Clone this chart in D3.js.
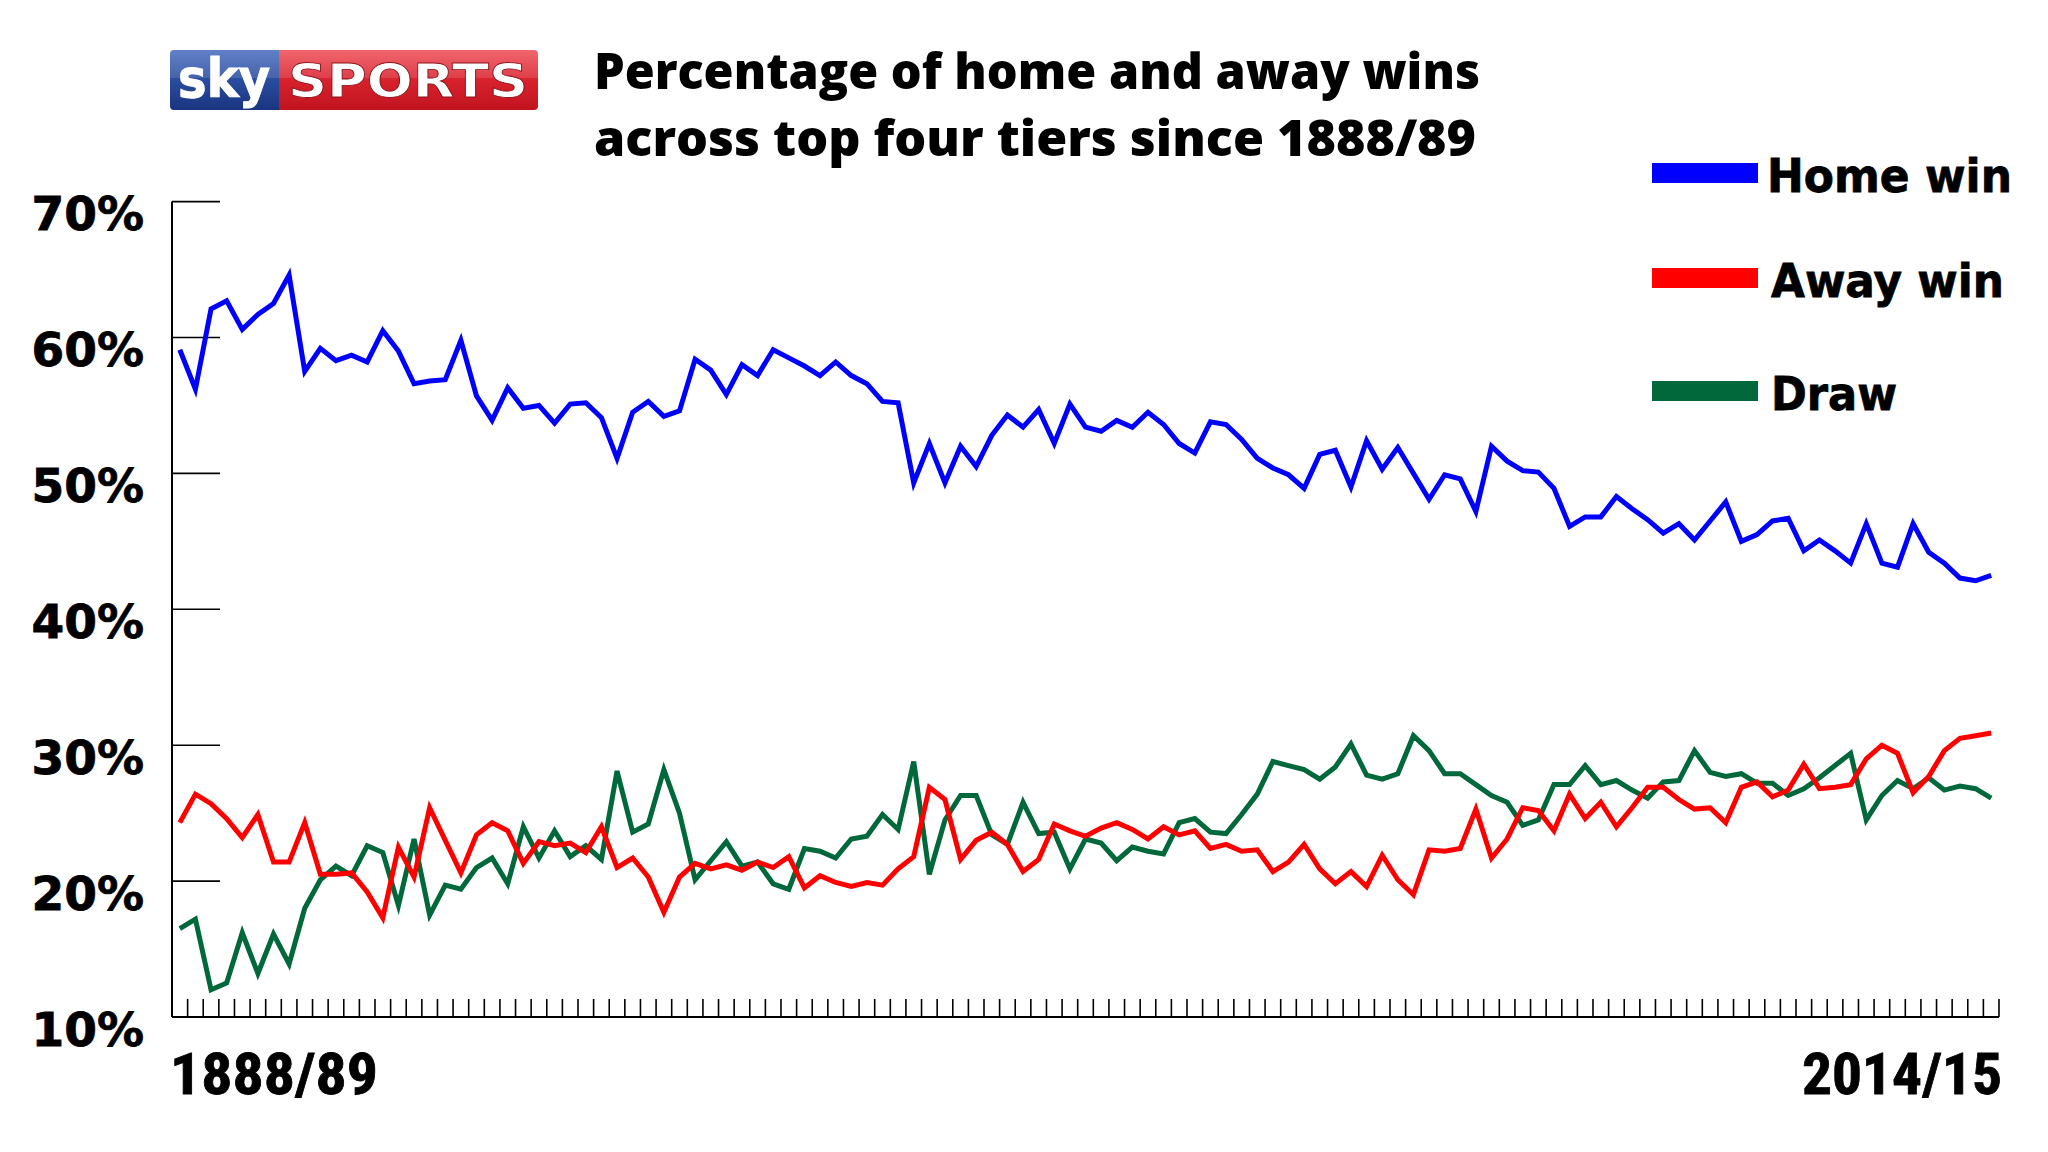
<!DOCTYPE html>
<html>
<head>
<meta charset="utf-8">
<script src="https://cdn.jsdelivr.net/npm/d3@7/dist/d3.min.js"></script>
<style>
  html, body { margin: 0; padding: 0; background: #ffffff; }
  svg { display: block; }
</style>
</head>
<body>
<svg id="chart" width="2048" height="1152"></svg>
<script>
// ---------------- DATA ----------------
const seasonStartYears = [
  1888,1889,1890,1891,1892,1893,1894,1895,1896,1897,1898,1899,1900,1901,1902,1903,1904,1905,1906,1907,
  1908,1909,1910,1911,1912,1913,1914,
  1919,1920,1921,1922,1923,1924,1925,1926,1927,1928,1929,1930,1931,1932,1933,1934,1935,1936,1937,1938,1939,
  1946,1947,1948,1949,1950,1951,1952,1953,1954,1955,1956,1957,1958,1959,1960,1961,1962,1963,1964,1965,
  1966,1967,1968,1969,1970,1971,1972,1973,1974,1975,1976,1977,1978,1979,1980,1981,1982,1983,1984,1985,
  1986,1987,1988,1989,1990,1991,1992,1993,1994,1995,1996,1997,1998,1999,2000,2001,2002,2003,2004,2005,
  2006,2007,2008,2009,2010,2011,2012,2013,2014
];
const seasons = seasonStartYears.map(y => y + "/" + String((y + 1) % 100).padStart(2, "0"));

const homeWin = [
  59.1,56.2,62.1,62.7,60.6,61.7,62.5,64.6,57.5,59.2,58.3,58.7,58.2,60.5,59.0,56.6,56.8,56.9,59.8,55.7,53.9,56.3,54.8,55.0,53.7,
  55.1,55.2,54.1,51.1,54.5,55.3,54.2,54.6,58.4,57.6,55.8,58.0,57.2,59.1,58.5,57.9,57.2,58.2,57.2,56.6,55.3,55.2,49.3,52.2,49.3,
  52.0,50.5,52.8,54.3,53.4,54.7,52.2,55.1,53.4,53.1,53.9,53.4,54.5,53.6,52.2,51.5,53.8,53.6,52.5,51.1,50.4,49.9,48.9,51.4,51.7,
  49.0,52.4,50.3,51.9,50.0,48.1,49.9,49.6,47.2,52.0,50.9,50.2,50.1,48.9,46.1,46.8,46.8,48.3,47.4,46.6,45.6,46.3,45.1,46.5,47.9,
  45.0,45.5,46.5,46.7,44.3,45.1,44.3,43.4,46.3,43.4,43.1,46.3,44.2,43.4,42.3,42.1,42.5
];
const awayWin = [
  24.3,26.4,25.7,24.6,23.2,24.9,21.4,21.4,24.3,20.5,20.5,20.6,19.2,17.3,22.5,20.3,25.4,23.0,20.6,23.4,24.3,23.7,21.3,22.9,22.6,
  22.8,22.1,24.0,21.0,21.7,20.3,17.7,20.3,21.3,20.9,21.2,20.8,21.4,21.0,21.8,19.5,20.4,19.9,19.6,19.9,19.7,20.9,21.8,26.9,26.0,
  21.6,23.0,23.6,22.7,20.7,21.6,24.2,23.7,23.3,23.9,24.3,23.8,23.1,24.0,23.4,23.7,22.4,22.7,22.2,22.3,20.7,21.4,22.7,20.9,19.8,
  20.7,19.6,21.9,20.1,19.0,22.3,22.2,22.4,25.3,21.7,23.1,25.4,25.2,23.7,26.4,24.6,25.8,24.0,25.4,26.9,26.9,26.0,25.3,25.4,24.3,
  26.9,27.3,26.2,26.7,28.6,26.8,26.9,27.1,29.0,30.0,29.4,26.5,27.7,29.6,30.5,30.7,30.9
];
const draw = [
  16.5,17.2,12.0,12.5,16.2,13.2,16.1,13.9,18.0,20.1,21.1,20.4,22.6,22.1,18.2,23.1,17.5,19.7,19.4,21.0,21.7,19.8,24.0,21.7,23.7,
  21.8,22.6,21.6,28.1,23.6,24.2,28.2,25.0,20.1,21.5,22.9,21.1,21.4,19.8,19.4,22.4,22.2,21.7,23.1,23.3,24.9,23.8,28.8,20.5,24.5,
  26.3,26.3,23.4,22.7,25.8,23.5,23.6,20.9,23.1,22.8,21.5,22.5,22.2,22.0,24.3,24.6,23.6,23.5,24.9,26.4,28.8,28.5,28.2,27.5,28.4,
  30.1,27.8,27.5,27.9,30.7,29.6,27.9,27.9,27.1,26.3,25.8,24.1,24.5,27.1,27.1,28.5,27.1,27.4,26.7,26.1,27.3,27.4,29.6,28.0,27.7,
  27.9,27.2,27.2,26.3,26.8,27.6,28.5,29.4,24.5,26.3,27.4,26.8,27.6,26.7,27.0,26.8,26.1
];

const yTickValues = [10, 20, 30, 40, 50, 60, 70];
const seriesNames = ["Home win", "Away win", "Draw"];
const seriesColors = ["#0000ff", "#ff0000", "#00683a"];
const titleLines = ["Percentage of home and away wins", "across top four tiers since 1888/89"];

// ---------------- LAYOUT ----------------
const svg = d3.select("#chart");
const plot = { left: 172, right: 1999, top: 201.6, bottom: 1017 };

const x = d3.scaleBand().domain(seasons).range([plot.left, plot.right]).paddingInner(0).paddingOuter(0);
const y = d3.scaleLinear().domain([10, 70]).range([plot.bottom, plot.top]);

const condensed = "'Liberation Sans Narrow', 'Roboto Condensed', 'Roboto', sans-serif";
const wide = "'DejaVu Sans', 'Verdana', sans-serif";
const titleFont = "'Open Sans', 'Lato', sans-serif";

// ---------------- LOGO ----------------
const defs = svg.append("defs");
const gb = defs.append("linearGradient").attr("id", "skyBlue").attr("x1", 0).attr("y1", 0).attr("x2", 0).attr("y2", 1);
gb.append("stop").attr("offset", "0%").attr("stop-color", "#4a6fc0");
gb.append("stop").attr("offset", "50%").attr("stop-color", "#2a4c9e");
gb.append("stop").attr("offset", "100%").attr("stop-color", "#1a3580");
const gr = defs.append("linearGradient").attr("id", "skyRed").attr("x1", 0).attr("y1", 0).attr("x2", 0).attr("y2", 1);
gr.append("stop").attr("offset", "0%").attr("stop-color", "#f0505a");
gr.append("stop").attr("offset", "50%").attr("stop-color", "#d8222e");
gr.append("stop").attr("offset", "100%").attr("stop-color", "#c0141f");
defs.append("clipPath").attr("id", "logoClip").append("rect")
  .attr("x", 170).attr("y", 50).attr("width", 368).attr("height", 60).attr("rx", 4);

const logo = svg.append("g").attr("clip-path", "url(#logoClip)");
logo.append("rect").attr("x", 170).attr("y", 50).attr("width", 110).attr("height", 60).attr("fill", "url(#skyBlue)");
logo.append("rect").attr("x", 279).attr("y", 50).attr("width", 259).attr("height", 60).attr("fill", "url(#skyRed)");
logo.append("rect").attr("x", 170).attr("y", 50).attr("width", 368).attr("height", 28).attr("fill", "#ffffff").attr("opacity", 0.12);
logo.append("text").attr("x", 178).attr("y", 97)
  .attr("font-family", wide).attr("font-weight", "bold").attr("font-size", 54)
  .attr("textLength", 92).attr("lengthAdjust", "spacingAndGlyphs")
  .attr("fill", "#ffffff").attr("stroke", "#ffffff").attr("stroke-width", 1).text("sky");
logo.append("text").attr("x", 288).attr("y", 97)
  .attr("font-family", wide).attr("font-weight", "bold").attr("font-size", 46)
  .attr("textLength", 240).attr("lengthAdjust", "spacingAndGlyphs")
  .attr("fill", "#ffffff").attr("stroke", "#8a1018").attr("stroke-width", 0.8).text("SPORTS");

// ---------------- TITLE ----------------
const titleBaselines = [89, 156];
const titleWidths = [886, 882];
svg.append("g").selectAll("text").data(titleLines).join("text")
  .attr("x", 594).attr("y", (d, i) => titleBaselines[i])
  .attr("font-family", titleFont).attr("font-weight", 800).attr("font-size", 50)
  .attr("textLength", (d, i) => titleWidths[i]).attr("lengthAdjust", "spacingAndGlyphs")
  .attr("fill", "#000").text(d => d);

// ---------------- AXES ----------------
const axes = svg.append("g").attr("stroke", "#000");
axes.append("line").attr("x1", plot.left).attr("x2", plot.left)
  .attr("y1", y(70)).attr("y2", y(10)).attr("stroke-width", 2);
axes.append("line").attr("x1", plot.left).attr("x2", plot.right)
  .attr("y1", y(10)).attr("y2", y(10)).attr("stroke-width", 2);
axes.selectAll(".ytick").data(yTickValues.filter(v => v > 10)).join("line")
  .attr("class", "ytick")
  .attr("x1", plot.left).attr("x2", plot.left + 48)
  .attr("y1", d => y(d)).attr("y2", d => y(d)).attr("stroke-width", 1.6);
axes.selectAll(".xtick").data(seasons).join("line")
  .attr("class", "xtick")
  .attr("x1", d => x(d) + x.bandwidth()).attr("x2", d => x(d) + x.bandwidth())
  .attr("y1", y(10)).attr("y2", y(10) - 18).attr("stroke-width", 1.6);

// y labels
svg.append("g").selectAll("text").data(yTickValues).join("text")
  .attr("x", 144).attr("y", d => y(d) + 12)
  .attr("text-anchor", "end").attr("dominant-baseline", "central")
  .attr("font-family", wide).attr("font-weight", "bold").attr("font-size", 47)
  .attr("stroke", "#000").attr("stroke-width", 0.8)
  .attr("fill", "#000").text(d => d + "%");

// x labels (first and last season)
const xLabels = [seasons[0], seasons[seasons.length - 1]];
svg.append("g").selectAll("text").data(xLabels).join("text")
  .attr("x", (d, i) => i === 0 ? 170 : 2002)
  .attr("y", 1094)
  .attr("text-anchor", (d, i) => i === 0 ? "start" : "end")
  .attr("font-family", condensed).attr("font-weight", "bold").attr("font-size", 58)
  .attr("stroke", "#000").attr("stroke-width", 0.8)
  .attr("textLength", (d, i) => i === 0 ? 208 : 200).attr("lengthAdjust", "spacingAndGlyphs")
  .attr("fill", "#000").text(d => d);

// ---------------- LINES ----------------
const allSeries = [homeWin, awayWin, draw];
const line = d3.line()
  .x((d, i) => x(seasons[i]) + x.bandwidth() / 2)
  .y(d => y(d));
svg.append("g").selectAll("path").data([2, 1, 0]).join("path")
  .attr("d", k => line(allSeries[k]))
  .attr("fill", "none")
  .attr("stroke", k => seriesColors[k])
  .attr("stroke-width", 5)
  .attr("stroke-linejoin", "miter")
  .attr("stroke-linecap", "butt");

// ---------------- LEGEND ----------------
const legendY = [173, 278, 391];
const legendTextW = [245, 233, 126];
const legend = svg.append("g").selectAll("g").data(seriesNames).join("g");
legend.append("rect")
  .attr("x", 1652).attr("y", (d, i) => legendY[i] - 10)
  .attr("width", 106).attr("height", 20)
  .attr("fill", (d, i) => seriesColors[i]);
legend.append("text")
  .attr("x", (d, i) => i === 0 ? 1767 : 1771)
  .attr("y", (d, i) => legendY[i] + 2)
  .attr("dominant-baseline", "central")
  .attr("font-family", wide).attr("font-weight", "bold").attr("font-size", 47)
  .attr("stroke", "#000").attr("stroke-width", 0.8)
  .attr("textLength", (d, i) => legendTextW[i]).attr("lengthAdjust", "spacingAndGlyphs")
  .attr("fill", "#000").text(d => d);
</script>
</body>
</html>
